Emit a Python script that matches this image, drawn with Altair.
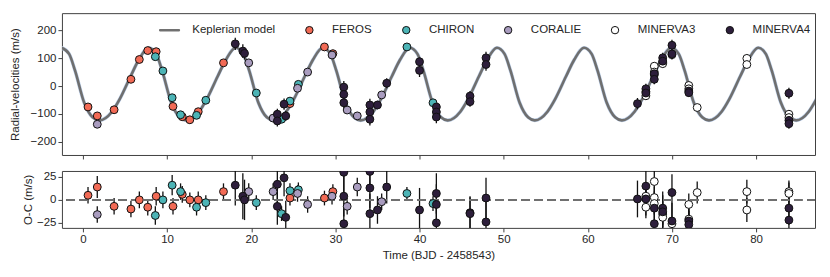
import altair as alt
import pandas as pd

# ---------------- data ----------------
SERIES = ["Keplerian model", "FEROS", "CHIRON", "CORALIE", "MINERVA3", "MINERVA4"]
FILLS = ["#707070", "#f26a55", "#4cb4b6", "#a99cbf", "#ffffff", "#2d1e3b"]
STROKES = ["#707070", "#111111", "#111111", "#111111", "#111111", "#111111"]
LINE_SYMBOL = "M-2.7,-0.2L2.7,-0.2L2.7,0.2L-2.7,0.2Z"
SHAPES = [LINE_SYMBOL, "circle", "circle", "circle", "circle", "circle"]

# Keplerian model curve: values
model_t = [-2.55, -1.65, -0.95, 0.15, 1.15, 1.95, 3.45, 4.35, 5.65, 6.65,
           7.80, 8.70, 9.40, 10.50, 11.50, 12.30, 13.80, 14.70, 16.00, 17.00,
           18.15, 19.05, 19.75, 20.85, 21.85, 22.65, 24.15, 25.05, 26.35, 27.35,
           28.50, 29.40, 30.10, 31.20, 32.20, 33.00, 34.50, 35.40, 36.70, 37.70,
           38.85, 39.75, 40.45, 41.55, 42.55, 43.35, 44.85, 45.75, 47.05, 48.05,
           49.20, 50.10, 50.80, 51.90, 52.90, 53.70, 55.20, 56.10, 57.40, 58.40,
           59.55, 60.45, 61.15, 62.25, 63.25, 64.05, 65.55, 66.45, 67.75, 68.75,
           69.90, 70.80, 71.50, 72.60, 73.60, 74.40, 75.90, 76.80, 78.10, 79.10,
           80.25, 81.15, 81.85, 82.95, 83.95, 84.75, 86.25, 87.15, 88.45, 89.45,
           90.60]
model_rv = [137, 115, 56, -60, -112, -123, -92, -48, 34, 95,
            137, 115, 56, -60, -112, -123, -92, -48, 34, 95,
            137, 115, 56, -60, -112, -123, -92, -48, 34, 95,
            137, 115, 56, -60, -112, -123, -92, -48, 34, 95,
            137, 115, 56, -60, -112, -123, -92, -48, 34, 95,
            137, 115, 56, -60, -112, -123, -92, -48, 34, 95,
            137, 115, 56, -60, -112, -123, -92, -48, 34, 95,
            137, 115, 56, -60, -112, -123, -92, -48, 34, 95,
            137, 115, 56, -60, -112, -123, -92, -48, 34, 95,
            137]

feros_t = [0.6, 1.7, 3.7, 5.7, 6.7, 7.7, 8.7, 10.7, 11.8, 12.7, 13.7, 16.7, 24.6, 28.7, 29.7]
feros_rv = [-75, -107, -85, 24, 95, 127, 123, -73, -110, -121, -92, 83, -63, 140, 116]
feros_oc = [5, 14, -7, -10, 0, -8, 4, -7, 6, 0, 0, 9, 2, 2, 9]
feros_err = [9, 12, 9, 9, 9, 9, 10, 9, 9, 8, 9, 9, 8, 8, 8]

chiron_t = [8.6, 9.5, 10.6, 11.6, 13.5, 14.6, 20.6, 23.6, 24.6, 25.6, 38.5, 41.6]
chiron_rv = [105, 54, -42, -103, -105, -51, -25, -119, -54, 6, 140, -60]
chiron_oc = [-17, 0, 16, 9, -8, -3, -3, -15, 10, 11, 7, -4]
chiron_err = [10, 9, 11, 9, 9, 8, 8, 8, 8, 8, 7, 8]

coralie_t = [1.7, 19.7, 22.6, 25.5, 26.7, 29.6, 31.4, 32.6, 35.5]
coralie_rv = [-137, 83, -115, -8, 50, 111, -86, -107, -32]
coralie_oc = [-16, 9, 9, 7, -5, 4, -7, 14, -2]
coralie_err = [9, 9, 9, 9, 9, 9, 9, 10, 9]

minerva3_t = [66.9, 66.9, 67.9, 67.9, 67.9, 68.9, 68.9, 70.0, 72.0, 72.0, 73.0, 78.9, 78.9, 83.9, 83.9]
minerva3_rv = [-35, -20, 71, 50, 40, 85, 80, 112, 2, -10, -77, 99, 77, -101, -113]
minerva3_oc = [-8, 4, 20, 2.5, -4, -15.5, -19, -26, -5, -21, 8, 9, -11, 9, 7]
minerva3_err = [12, 12, 12, 12, 12, 14, 14, 14, 12, 12, 12, 13, 13, 12, 12]

minerva4_t = [18.1, 19.0, 19.2, 23.1, 23.1, 23.9, 24.1, 31.0, 31.0, 31.0, 34.1, 34.1, 34.1,
              35.0, 36.1, 40.0, 40.0, 42.0, 42.0, 42.0, 46.0, 46.0, 47.9, 47.9, 65.9,
              66.9, 66.9, 67.9, 67.9, 68.9, 68.9, 70.0, 70.0, 72.0, 72.0, 83.9, 83.9, 83.9]
minerva4_rv = [151, 125, 117, -101, -125, -65, -107, -4, -30, -60, -68, -93, -119,
               -68, 10, 87, 56, -75, -93, -111, -36, -56, 101, 77, -63,
               -10, -25, 44, 24, 101, 89, 146, 115, -18, -24, -26, -123, -135]
minerva4_oc = [16, 4, 0, 17, -7, 24, -19, 30, 4, -26, 31, 13, -15,
               -11, 14, 50, -11, 7, -5, -25, -14, -15, 2, -24, 1,
               15, 1, -9, -26, -9, -13, 8, -23, -23, -27, 80, -9, -22]
minerva4_err = [22, 25, 22, 20, 20, 20, 18, 22, 22, 22, 22, 22, 22,
                15, 18, 15, 24, 22, 22, 22, 18, 18, 22, 22, 20,
                18, 18, 18, 18, 18, 18, 20, 20, 15, 15, 20, 18, 18]

x_ticks = [0, 10, 20, 30, 40, 50, 60, 70, 80]
rv_ticks = [-200, -100, 0, 100, 200]
oc_ticks = [-25, 0, 25]

# ---------------- tables ----------------
def frame(name, t, rv, oc, err):
    return pd.DataFrame({"series": name, "t": t, "rv": rv, "oc": oc, "err": err})

obs = pd.concat([
    frame("FEROS", feros_t, feros_rv, feros_oc, feros_err),
    frame("CHIRON", chiron_t, chiron_rv, chiron_oc, chiron_err),
    frame("CORALIE", coralie_t, coralie_rv, coralie_oc, coralie_err),
    frame("MINERVA3", minerva3_t, minerva3_rv, minerva3_oc, minerva3_err),
    frame("MINERVA4", minerva4_t, minerva4_rv, minerva4_oc, minerva4_err),
], ignore_index=True)
obs["rv_lo"] = obs["rv"] - obs["err"]
obs["rv_hi"] = obs["rv"] + obs["err"]
obs["oc_lo"] = obs["oc"] - obs["err"]
obs["oc_hi"] = obs["oc"] + obs["err"]

model = pd.DataFrame({"t": model_t, "rv": model_rv})

FONT = "Liberation Sans"
W = 754

x_scale = alt.Scale(domain=[-2.5, 87], nice=False, zero=False)
rv_scale = alt.Scale(domain=[-247, 261], nice=False, zero=False)
oc_scale = alt.Scale(domain=[-30.5, 31.5], nice=False, zero=False)

legend = alt.Legend(
    orient="none", legendX=102, legendY=11, direction="horizontal", title=None,
    labelFontSize=11.5, labelFont=FONT, labelColor="#262626", labelOffset=17,
    columnPadding=28, symbolSize=55, symbolStrokeWidth=1, padding=0,
)
fill_scale = alt.Scale(domain=SERIES, range=FILLS)
stroke_scale = alt.Scale(domain=SERIES, range=STROKES)
shape_scale = alt.Scale(domain=SERIES, range=SHAPES)

def point_encodings(leg):
    return dict(
        fill=alt.Fill("series:N", scale=fill_scale, legend=leg),
        stroke=alt.Stroke("series:N", scale=stroke_scale, legend=leg),
        shape=alt.Shape("series:N", scale=shape_scale, legend=leg),
    )

x_axis_top = alt.Axis(values=x_ticks, labels=False, title=None)
x_axis_bot = alt.Axis(values=x_ticks, title="Time (BJD - 2458543)", format="d")
rv_axis = alt.Axis(values=rv_ticks, title="Radial-velocities (m/s)", titlePadding=10)
oc_axis = alt.Axis(values=oc_ticks, title="O-C (m/s)", titlePadding=3)

def xt(): return alt.X("t:Q", scale=x_scale, axis=x_axis_top)
def xb(): return alt.X("t:Q", scale=x_scale, axis=x_axis_bot)
def yrv(field): return alt.Y(field, scale=rv_scale, axis=rv_axis, title="Radial-velocities (m/s)")
def yoc(field): return alt.Y(field, scale=oc_scale, axis=oc_axis, title="O-C (m/s)")

# ---------------- top panel ----------------
halo = alt.Chart(model).mark_line(color="#bccfe9", strokeWidth=3.6, interpolate="monotone", clip=True).encode(
    x=xt(), y=yrv("rv:Q"),
)
curve = alt.Chart(model).mark_line(color="#6f6f6f", strokeWidth=2.6, interpolate="monotone", clip=True).encode(
    x=xt(), y=yrv("rv:Q"),
)
bars_top = alt.Chart(obs).mark_rule(color="#111111", strokeWidth=1.3, clip=True).encode(
    x=xt(), y=yrv("rv_lo:Q"), y2="rv_hi:Q",
)
pts_top = alt.Chart(obs).mark_point(filled=True, size=62, strokeWidth=1, opacity=1, clip=True).encode(
    x=xt(), y=yrv("rv:Q"), **point_encodings(legend)
)
top = alt.layer(halo, curve, bars_top, pts_top).properties(width=W, height=142)

# ---------------- bottom panel ----------------
zero = alt.Chart(obs).mark_rule(color="#707070", strokeWidth=2, strokeDash=[8, 5]).encode(
    y=alt.datum(0, scale=oc_scale, axis=oc_axis, title="O-C (m/s)"),
)
bars_bot = alt.Chart(obs).mark_rule(color="#111111", strokeWidth=1.3, clip=True).encode(
    x=xb(), y=yoc("oc_lo:Q"), y2="oc_hi:Q",
)
pts_bot = alt.Chart(obs).mark_point(filled=True, size=62, strokeWidth=1, opacity=1, clip=True).encode(
    x=xb(), y=yoc("oc:Q"), **point_encodings(None)
)
bottom = alt.layer(bars_bot, zero, pts_bot).properties(width=W, height=57)

chart = alt.vconcat(top, bottom, spacing=10).resolve_legend(
    fill="independent", stroke="independent", shape="independent"
).properties(
    padding={"left": 0, "top": 4, "right": 5, "bottom": 2}
).configure_view(
    stroke="#404040", strokeWidth=1
).configure_axis(
    grid=False, domain=False, tickColor="#404040", tickSize=4, tickWidth=1,
    labelFont=FONT, titleFont=FONT, labelFontSize=11.5, titleFontSize=11.5,
    labelColor="#262626", titleColor="#262626", titleFontWeight="normal", labelPadding=2,
    labelOverlap=False,
)

chart.save("out.html", embed_options={"renderer": "svg", "actions": False})
